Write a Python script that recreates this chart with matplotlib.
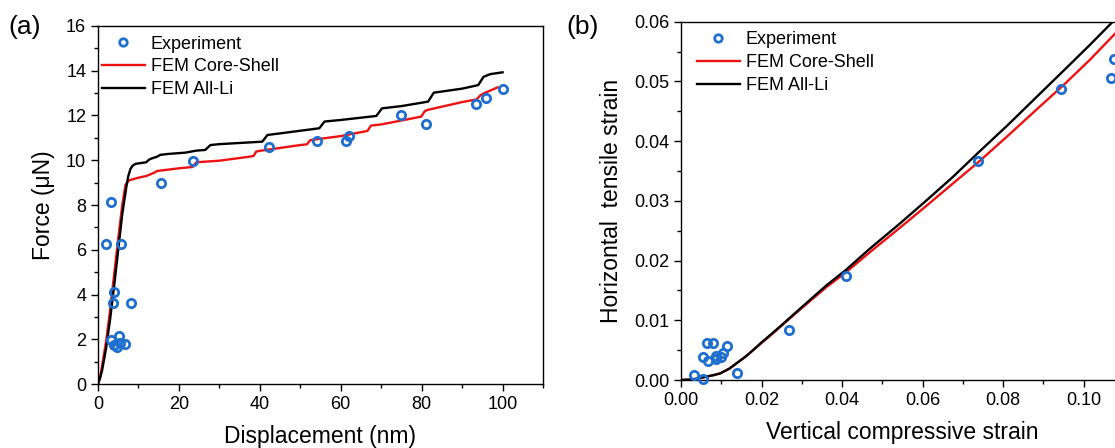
import matplotlib
matplotlib.use("Agg")
import matplotlib.pyplot as plt
from matplotlib.ticker import MultipleLocator, FormatStrFormatter

plt.rcParams['font.family'] = ['Liberation Sans', 'DejaVu Sans']

# ---- Panel (a) data ----
exp_a_x = [2.0, 3.2, 5.8, 4.0, 3.8, 8.1, 3.2, 5.1, 4.6, 4.0, 5.4, 6.6,
           15.5, 23.6, 42.2, 54.2, 61.2, 62.0, 75.0, 81.0, 93.5, 95.8, 100.2]
exp_a_y = [6.27, 8.13, 6.27, 4.11, 3.60, 3.60, 1.97, 2.14, 1.67, 1.74, 1.85, 1.79,
           9.0, 9.95, 10.6, 10.85, 10.85, 11.07, 12.0, 11.6, 12.52, 12.8, 13.2]

cs_a_x = [0, 0.5, 1, 2, 3, 4, 5, 6, 6.8, 7.5, 8, 10, 12, 14, 14.6, 20, 23.4, 24.3,
          30, 37.5, 38.5, 39.1, 40, 50, 51.6, 52.5, 60, 66.6, 67.5, 70, 79.9, 80.8,
          81.5, 90, 93.6, 94.5, 95.5, 98.8]
cs_a_y = [0, 0.3, 0.8, 1.9, 3.3, 4.9, 6.5, 8.0, 8.9, 9.08, 9.12, 9.22, 9.3, 9.45,
          9.52, 9.64, 9.7, 9.91, 9.98, 10.16, 10.2, 10.39, 10.42, 10.68, 10.71, 10.9,
          11.08, 11.31, 11.55, 11.6, 11.95, 12.2, 12.25, 12.6, 12.72, 12.9, 13.0, 13.26]

li_a_x = [0, 0.5, 1, 2, 3, 4, 5, 6, 7, 7.5, 8, 8.5, 9.3, 11.9, 12.8, 14.6, 15.4,
          17.2, 21.6, 24.3, 26.5, 27.8, 30, 40.6, 41.9, 45, 54.7, 56.0, 60, 68.8,
          70.2, 75, 81.6, 83.0, 90, 94.0, 95.3, 97, 100]
li_a_y = [0, 0.25, 0.6, 1.6, 2.9, 4.4, 6.0, 7.6, 8.8, 9.3, 9.6, 9.75, 9.84, 9.91,
          10.05, 10.16, 10.24, 10.28, 10.34, 10.43, 10.46, 10.68, 10.72, 10.83, 11.13,
          11.2, 11.43, 11.73, 11.8, 11.98, 12.32, 12.42, 12.62, 13.02, 13.2, 13.36,
          13.73, 13.85, 13.93]

# ---- Panel (b) data ----
exp_b_x = [0.0033, 0.0055, 0.0055, 0.0065, 0.0079, 0.0068, 0.0086, 0.0088, 0.0099,
           0.0105, 0.0114, 0.0140, 0.0268, 0.0409, 0.0737, 0.0944, 0.1067, 0.1075]
exp_b_y = [0.00084, 0.0002, 0.0039, 0.0062, 0.0062, 0.0031, 0.0040, 0.0035, 0.0039,
           0.0045, 0.0057, 0.0012, 0.0084, 0.0174, 0.0366, 0.0488, 0.0506, 0.0537]

curve_b_x = [0, 0.003, 0.0055, 0.008, 0.0097, 0.012, 0.0138, 0.016, 0.0179, 0.020,
             0.0221, 0.025, 0.0275, 0.032, 0.0362, 0.0409, 0.0469, 0.054, 0.061,
             0.0675, 0.0737, 0.081, 0.0883, 0.095, 0.1015, 0.1075, 0.112]
cs_b_y = [0, 0.0001, 0.00045, 0.0008, 0.0011, 0.0019, 0.0028, 0.0039, 0.0050, 0.0062,
          0.0074, 0.0091, 0.0106, 0.0132, 0.0156, 0.0180, 0.0214, 0.0253, 0.0292,
          0.0329, 0.0364, 0.0408, 0.0453, 0.0494, 0.0536, 0.0578, 0.0609]
li_b_y = [0, 0.0001, 0.00045, 0.0008, 0.0011, 0.0019, 0.0028, 0.0039, 0.0050, 0.0063,
          0.0075, 0.0092, 0.0107, 0.0134, 0.0159, 0.0184, 0.0220, 0.0260, 0.0301,
          0.0340, 0.0380, 0.0426, 0.0474, 0.0518, 0.0561, 0.0602, 0.0633]

BLUE = '#1f6fd0'
RED = '#ee1111'

fig = plt.figure(figsize=(11.15, 4.48), dpi=100)
ax1 = fig.add_axes([98/1115, (448-384)/448, 445/1115, 358/448])
ax2 = fig.add_axes([681/1115, (448-380)/448, 443/1115, 358.3/448])

def style(ax):
    ax.tick_params(which='both', direction='out', top=False, right=False,
                   labelsize=13, width=1.0)
    ax.tick_params(which='major', length=5)
    ax.tick_params(which='minor', length=3)
    for s in ax.spines.values():
        s.set_linewidth(1.0)

for ax, ex, ey, cx, cy, lx, ly, dx in [
        (ax1, exp_a_x, exp_a_y, cs_a_x, cs_a_y, li_a_x, li_a_y, 0.0),
        (ax2, exp_b_x, exp_b_y, curve_b_x, cs_b_y, curve_b_x, li_b_y, 12/443)]:
    ax.plot(ex, ey, 'o', mfc='none', mec=BLUE, mew=2.0, ms=6, label='Experiment',
            zorder=3, clip_on=False)
    ax.plot(cx, cy, '-', color=RED, lw=1.7, label='FEM Core-Shell', zorder=2)
    ax.plot(lx, ly, '-', color='black', lw=1.7, label='FEM All-Li', zorder=2)
    style(ax)
    ax.legend(loc='upper left', bbox_to_anchor=(dx, 1.0 - 6/358), frameon=False,
              fontsize=13, handlelength=2.4, handletextpad=0.33, borderpad=0.1,
              labelspacing=0.32, borderaxespad=0.1, markerscale=0.9)

ax1.set_xlim(0, 110)
ax1.set_ylim(0, 16)
ax1.xaxis.set_major_locator(MultipleLocator(20))
ax1.xaxis.set_minor_locator(MultipleLocator(10))
ax1.yaxis.set_major_locator(MultipleLocator(2))
ax1.yaxis.set_minor_locator(MultipleLocator(1))
ax1.set_xlabel('Displacement (nm)', fontsize=16.5, labelpad=9)
ax1.set_ylabel('Force (μN)', fontsize=16.5, labelpad=8)

ax2.set_xlim(0, 0.11)
ax2.set_ylim(0, 0.06)
ax2.xaxis.set_major_locator(MultipleLocator(0.02))
ax2.xaxis.set_minor_locator(MultipleLocator(0.01))
ax2.yaxis.set_major_locator(MultipleLocator(0.01))
ax2.yaxis.set_minor_locator(MultipleLocator(0.005))
ax2.xaxis.set_major_formatter(FormatStrFormatter('%.2f'))
ax2.yaxis.set_major_formatter(FormatStrFormatter('%.2f'))
ax2.set_xlabel('Vertical compressive strain', fontsize=16.5, labelpad=9)
ax2.set_ylabel('Horizontal  tensile strain', fontsize=16.5, labelpad=8)

fig.text(8/1115, 1 - 34/448, '(a)', fontsize=19, ha='left', va='baseline')
fig.text(566/1115, 1 - 34/448, '(b)', fontsize=19, ha='left', va='baseline')

fig.savefig('out.png', dpi=100)
